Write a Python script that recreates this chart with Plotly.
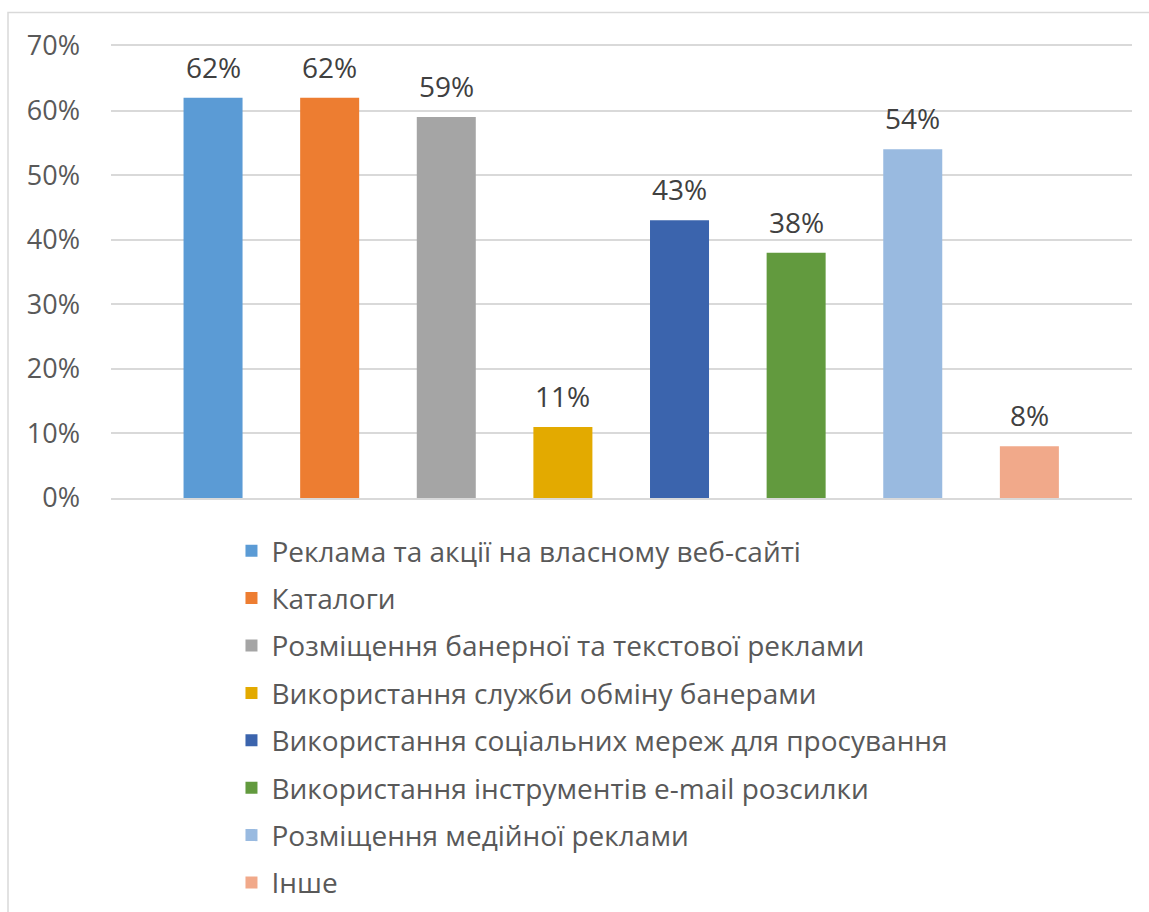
import plotly.graph_objects as go

categories = [
    "Реклама та акції на власному веб-сайті",
    "Каталоги",
    "Розміщення банерної та текстової реклами",
    "Використання служби обміну банерами",
    "Використання соціальних мереж для просування",
    "Використання інструментів e-mail розсилки",
    "Розміщення медійної реклами",
    "Інше",
]
values = [0.62, 0.62, 0.59, 0.11, 0.43, 0.38, 0.54, 0.08]
colors = ["#5B9BD5", "#ED7D31", "#A5A5A5", "#E3AA00",
          "#3B64AD", "#629A3E", "#99BAE0", "#F1A98A"]
tick_vals = [0, 0.1, 0.2, 0.3, 0.4, 0.5, 0.6, 0.7]
tick_text = ["0%", "10%", "20%", "30%", "40%", "50%", "60%", "70%"]

FONT = "Open Sans"
fig = go.Figure()
for i, (name, v, c) in enumerate(zip(categories, values, colors)):
    fig.add_trace(go.Bar(
        x=[name], y=[v], name=name, marker=dict(color=c, line=dict(width=0)),
        width=0.506, legendgroup=str(i),
    ))
    fig.add_annotation(
        x=name, y=v, xref="x", yref="y", text=f"{round(v*100)}%",
        showarrow=False, yanchor="middle", yshift=31,
        font=dict(size=28, color="#404040", family=FONT),
    )

fig.update_layout(
    width=1149, height=912,
    paper_bgcolor="white", plot_bgcolor="white",
    margin=dict(l=111, r=17, t=46, b=414, autoexpand=False),
    barmode="overlay",
    showlegend=True,
    font=dict(family=FONT, color="#595959"),
    legend=dict(
        orientation="v", x=0.118, y=-0.062, xanchor="left", yanchor="top",
        font=dict(size=28, color="#595959", family=FONT),
        tracegroupgap=8, itemsizing="constant",
    ),
    xaxis=dict(
        type="category", categoryorder="array", categoryarray=categories,
        range=[-0.875, 7.88], showticklabels=False, showgrid=False,
        zeroline=False, showline=True, mirror=True,
        linecolor="#D9D9D9", linewidth=1.5, ticks="",
    ),
    yaxis=dict(
        range=[0, 0.7], tickvals=tick_vals, ticktext=tick_text,
        showgrid=True, gridcolor="#D9D9D9", gridwidth=1.5,
        zeroline=False, showline=False, ticks="",
        tickfont=dict(size=27, color="#595959", family=FONT),
        ticklabelstandoff=30,
    ),
    shapes=[dict(
        type="rect", xref="paper", yref="paper",
        x0=(8 - 111) / 1021, x1=(1160 - 111) / 1021,
        y0=(498 - 930) / 452, y1=(498 - 12.5) / 452,
        line=dict(color="#D9D9D9", width=1.5), fillcolor="rgba(0,0,0,0)",
        layer="below",
    )],
)

fig.write_html("out.html")
